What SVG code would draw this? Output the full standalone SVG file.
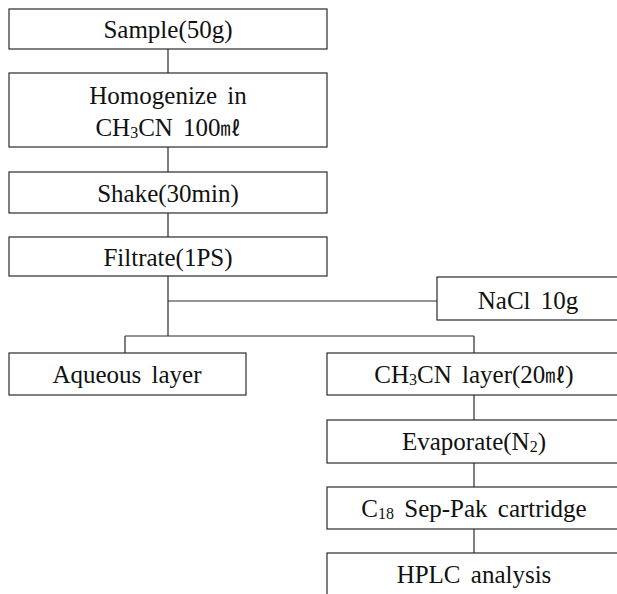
<svg xmlns="http://www.w3.org/2000/svg" width="617" height="594" viewBox="0 0 617 594">
<style>
.box{fill:#fff;stroke:#2a2a2a;stroke-width:1.2}
.lbl{font-family:'Liberation Serif','Times New Roman','DejaVu Serif',serif;font-size:25px;fill:#111;text-anchor:middle;word-spacing:4px}
.sub{font-size:16px}
.ml{font-family:'Noto Sans CJK KR',sans-serif;font-size:20px}
.con{fill:none;stroke:#2a2a2a;stroke-width:1.2}
</style>
<rect width="617" height="594" fill="#fff"/>
<g id="connectors">
<path class="con" d="M168 49V73M168 147V172M168 213V237M168 276V336M168 301H437M125 336H474M125 336V353M474 336V353M474 395V420M474 463V487M474 529V553"/>
</g>
<g id="sample"><rect class="box" x="9" y="9" width="318" height="40"/><text class="lbl" x="168" y="38">Sample(50g)</text></g>
<g id="homogenize"><rect class="box" x="9" y="73" width="318" height="74"/><text class="lbl" x="168" y="104">Homogenize in</text><text class="lbl" x="168" y="136">CH<tspan class="sub" dy="2">3</tspan><tspan dy="-2">CN 100</tspan><tspan class="ml">㎖</tspan></text></g>
<g id="shake"><rect class="box" x="9" y="172" width="318" height="41"/><text class="lbl" x="168" y="202">Shake(30min)</text></g>
<g id="filtrate"><rect class="box" x="9" y="237" width="318" height="39"/><text class="lbl" x="168" y="266">Filtrate(1PS)</text></g>
<g id="nacl"><rect class="box" x="437" y="277" width="184" height="43"/><text class="lbl" x="528" y="309">NaCl 10g</text></g>
<g id="aqueous"><rect class="box" x="9" y="353" width="237" height="42"/><text class="lbl" x="127" y="383">Aqueous layer</text></g>
<g id="ch3cn"><rect class="box" x="327" y="353" width="294" height="42"/><text class="lbl" x="474" y="383">CH<tspan class="sub" dy="2">3</tspan><tspan dy="-2">CN layer(20</tspan><tspan class="ml">㎖</tspan>)</text></g>
<g id="evaporate"><rect class="box" x="327" y="420" width="294" height="43"/><text class="lbl" x="474" y="450">Evaporate(N<tspan class="sub" dy="2">2</tspan><tspan dy="-2">)</tspan></text></g>
<g id="seppak"><rect class="box" x="327" y="487" width="294" height="42"/><text class="lbl" x="474" y="517">C<tspan class="sub" dy="2">18</tspan><tspan dy="-2"> Sep-Pak cartridge</tspan></text></g>
<g id="hplc"><rect class="box" x="327" y="553" width="294" height="44"/><text class="lbl" x="474" y="583">HPLC analysis</text></g>
</svg>
